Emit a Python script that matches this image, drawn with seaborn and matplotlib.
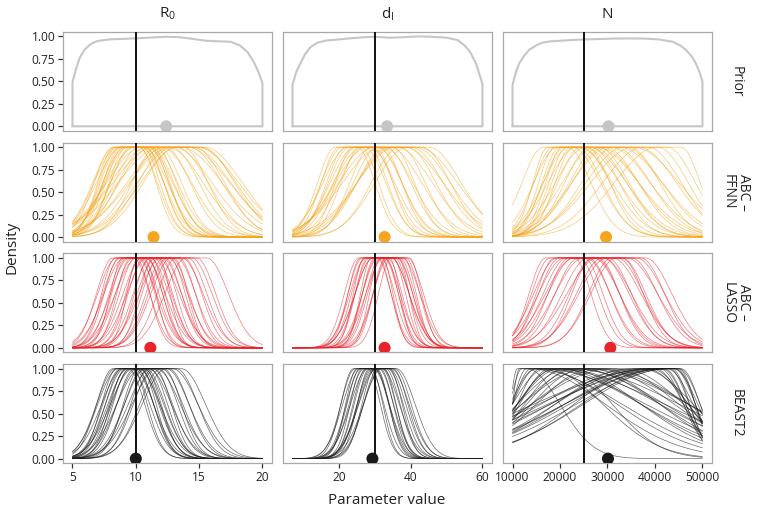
import numpy as np
import pandas as pd
import matplotlib
matplotlib.use("Agg")
import matplotlib.pyplot as plt
import seaborn as sns

# ---- panel layout ----
params = ["R0", "dI", "N"]
col_titles = [r"$\mathregular{R_0}$", r"$\mathregular{d_I}$", "N"]
methods = ["Prior", "ABC \u2013\nFFNN", "ABC \u2013\nLASSO", "BEAST2"]
method_colors = ["#C6C6C6", "#F5A51E", "#E8232A", "#1A1A1A"]

prior_lo = [5, 7, 10000]
prior_hi = [20, 60, 50000]
truth = [10, 30, 25000]

# mean estimate per method (rows) and parameter (cols)
mean_r0 = [12.4, 11.4, 11.15, 10.0]
mean_di = [33.4, 32.7, 32.7, 29.3]
mean_n = [30200, 29700, 30600, 30100]

# ---- prior density outlines ----
prior_r0_x = [5, 5.3, 5.6, 6.0, 6.5, 7.0, 8.0, 9.0, 10.0, 11.0, 12.4, 13.5,
              14.5, 15.5, 16.5, 17.5, 18.2, 18.8, 19.3, 19.7, 20]
prior_r0_y = [0.49, 0.65, 0.77, 0.86, 0.92, 0.95, 0.967, 0.972, 0.978, 0.985,
              0.996, 0.99, 0.972, 0.952, 0.945, 0.94, 0.90, 0.83, 0.72, 0.60, 0.48]
prior_di_x = [7, 8, 9.2, 10.5, 12, 14, 16.5, 19, 23, 27, 30, 34, 38, 42, 46,
              50, 53, 55, 56.5, 58.2, 60]
prior_di_y = [0.46, 0.60, 0.70, 0.80, 0.88, 0.93, 0.955, 0.962, 0.978, 0.99,
              0.995, 0.985, 0.99, 1.0, 0.995, 0.985, 0.96, 0.90, 0.83, 0.70, 0.47]
prior_n_x = [10000, 10700, 11400, 12400, 13500, 15000, 16300, 18000, 19800,
             22000, 25000, 28000, 31000, 35000, 38000, 41000, 43700, 45300,
             46500, 47700, 48600, 49400, 50000]
prior_n_y = [0.46, 0.60, 0.70, 0.78, 0.85, 0.90, 0.93, 0.945, 0.95, 0.958,
             0.965, 0.97, 0.975, 0.977, 0.975, 0.965, 0.94, 0.90, 0.85, 0.78,
             0.70, 0.60, 0.50]

# ---- posterior curves: plateau centre, left / right spread (estimated) ----
# R0, ABC-FFNN
ffnn_r0_c = [9.2, 9.3, 9.4, 9.5, 9.6, 9.7, 9.8, 9.9, 10.0, 10.1, 10.2, 10.3,
             10.4, 10.6, 10.8, 11.0, 11.3, 11.5, 11.8, 12.0, 12.2, 12.5, 12.7,
             13.0, 13.2, 13.4, 13.6, 13.8, 14.0, 14.2, 14.4]
ffnn_r0_s = [1.5, 1.3, 1.8, 1.4, 1.9, 1.5, 1.4, 2.0, 1.6, 1.5, 1.8, 1.4, 1.9,
             1.6, 1.8, 2.4, 2.0, 2.8, 2.2, 3.0, 2.5, 3.3, 2.0, 3.4, 2.6, 3.1,
             2.4, 3.3, 2.9, 2.6, 3.0]
# R0, ABC-LASSO
lasso_r0_c = [9.0, 9.2, 9.3, 9.5, 9.6, 9.8, 9.9, 10.0, 10.1, 10.3, 10.4, 10.6,
              10.8, 10.9, 11.0, 11.2, 11.3, 11.5, 11.7, 11.9, 12.0, 12.2, 12.4,
              12.6, 12.8, 13.0, 13.3, 13.6, 14.0, 14.8]
lasso_r0_s = [1.3, 1.1, 1.5, 1.2, 1.4, 1.0, 1.6, 1.3, 1.2, 1.5, 1.1, 1.4, 1.3,
              1.7, 0.9, 1.2, 1.5, 1.3, 1.6, 1.2, 1.4, 1.1, 1.5, 1.3, 1.7, 1.4,
              1.5, 1.6, 1.5, 1.7]
# R0, BEAST2
beast_r0_c = [8.8, 9.0, 9.1, 9.2, 9.4, 9.5, 9.6, 9.7, 9.8, 9.9, 10.0, 10.1,
              10.2, 10.4, 10.5, 10.7, 10.9, 11.0, 11.2, 11.4, 11.6, 11.8, 12.0,
              12.3, 12.6, 13.0]
beast_r0_s = [1.3, 1.5, 1.2, 1.6, 1.4, 1.3, 1.7, 1.5, 1.2, 1.4, 1.6, 1.3, 1.5,
              1.8, 1.4, 1.6, 1.3, 1.9, 1.5, 1.7, 1.4, 1.8, 1.6, 2.0, 1.7, 1.9]

# dI, ABC-FFNN
ffnn_di_c = [22, 23, 24, 25, 25.5, 26, 27, 27.5, 28, 29, 29.5, 30, 31, 32, 33,
             34, 35, 36, 37, 38, 39, 40, 42]
ffnn_di_s = [5, 5, 6, 5.5, 7, 6, 5, 7, 6.5, 5.5, 8, 7, 9, 6, 10, 7, 11, 8, 9,
             10, 11, 8, 9]
# dI, ABC-LASSO
lasso_di_c = [28, 28.5, 29, 29.5, 30, 30.5, 31, 31.5, 32, 32.5, 33, 33.5, 34,
              34.5, 35, 35.5, 36, 36.5, 37, 30, 32, 34]
lasso_di_s = [4, 3.5, 4, 3, 4.5, 3.5, 4, 3, 5, 3.5, 4, 4.5, 3, 4, 5, 3.5, 4,
              4.5, 3.5, 4, 5, 4]
# dI, BEAST2
beast_di_c = [26, 26.5, 27, 27.5, 28, 28.5, 29, 29.5, 30, 30.5, 31, 31.5, 32,
              32.5, 33, 33.5, 34, 28, 30, 32]
beast_di_s = [3.5, 4, 3.2, 4.5, 3.8, 3.4, 4.2, 3.6, 4.8, 3.4, 4, 4.4, 3.6, 5,
              4.2, 4.6, 5.2, 4, 3.8, 4.6]

# N, ABC-FFNN
ffnn_n_c = [19000, 20000, 21000, 21500, 22000, 22500, 23000, 23500, 24000,
            24500, 25000, 25500, 26000, 27000, 28000, 29000, 30000, 31000,
            32000, 33000, 34000, 36000, 38000, 40000, 43000]
ffnn_n_slo = [4500, 3200, 4000, 3500, 5000, 3800, 3500, 4500, 3800, 5500, 4200,
              4000, 6000, 5000, 6500, 5500, 7000, 6500, 7000, 8000, 7000, 8000,
              9000, 8500, 9000]
ffnn_n_shi = [5000, 6000, 5500, 7000, 6000, 7500, 5000, 8000, 6000, 7000, 9000,
              6500, 8000, 7000, 8500, 7500, 9000, 8000, 6500, 9500, 8000, 7000,
              6500, 6000, 4000]
# N, ABC-LASSO
lasso_n_c = [20000, 21000, 22000, 22500, 23000, 24000, 24500, 25000, 26000,
             27000, 28000, 29000, 30000, 31000, 32000, 33000, 34000, 35000,
             26000, 30000]
lasso_n_s = [3500, 4000, 4000, 5000, 4500, 5500, 5000, 4500, 5500, 5000, 6000,
             5500, 5000, 6500, 5500, 6000, 5000, 5500, 6000, 4500]
# N, BEAST2
beast_n_c = [40000, 41000, 42000, 42500, 43000, 43500, 44000, 44000, 41500,
             39000, 43000, 40500, 38000, 36000, 44500, 37000,
             12500, 13000, 14000, 15000, 16000, 17000, 18000, 19000, 20000,
             21000, 22000, 23000, 24000, 25000, 26000, 27000, 28000, 30000,
             32000, 12000, 20000, 16000]
beast_n_slo = [21000, 19000, 23000, 17000, 20000, 25000, 18000, 22000, 26000,
               15000, 21000, 24000, 18000, 16000, 20000, 20000,
               1500, 2500, 3000, 4000, 5500, 5000, 7000, 6500, 8000, 9000,
               8500, 11000, 10000, 12000, 11000, 14000, 12000, 15000, 17000,
               1400, 8000, 5000]
beast_n_shi = [5000, 4500, 4200, 3800, 4500, 4000, 3500, 4500, 5500, 6000,
               5000, 5000, 8000, 11000, 4000, 9000,
               16000, 19000, 17000, 22000, 20000, 24000, 18000, 21000, 16000,
               23000, 19000, 17000, 22000, 15000, 20000, 16000, 18000, 14000,
               13000, 7000, 10000, 12000]

plateau = {("R0", 1): 1.0, ("R0", 2): 0.8, ("R0", 3): 0.6,
           ("dI", 1): 3.0, ("dI", 2): 2.5, ("dI", 3): 2.0,
           ("N", 1): 2500, ("N", 2): 3000, ("N", 3): 1000}

curves = {
    ("R0", 1): (ffnn_r0_c, ffnn_r0_s, ffnn_r0_s),
    ("R0", 2): (lasso_r0_c, lasso_r0_s, lasso_r0_s),
    ("R0", 3): (beast_r0_c, beast_r0_s, beast_r0_s),
    ("dI", 1): (ffnn_di_c, ffnn_di_s, ffnn_di_s),
    ("dI", 2): (lasso_di_c, lasso_di_s, lasso_di_s),
    ("dI", 3): (beast_di_c, beast_di_s, beast_di_s),
    ("N", 1): (ffnn_n_c, ffnn_n_slo, ffnn_n_shi),
    ("N", 2): (lasso_n_c, lasso_n_s, lasso_n_s),
    ("N", 3): (beast_n_c, beast_n_slo, beast_n_shi),
}
priors = {"R0": (prior_r0_x, prior_r0_y), "dI": (prior_di_x, prior_di_y),
          "N": (prior_n_x, prior_n_y)}
means = {"R0": mean_r0, "dI": mean_di, "N": mean_n}


def flat_top(x, c, h, s_lo, s_hi):
    d = np.clip(np.abs(x - c) - h, 0, None)
    s = np.where(x < c, s_lo, s_hi)
    y = np.exp(-0.5 * (d / s) ** 2)
    return y / y.max()


sns.set_theme(style="white")
plt.rcParams["font.family"] = ["Open Sans", "DejaVu Sans"]
plt.rcParams["mathtext.fontset"] = "custom"
plt.rcParams["mathtext.rm"] = "Open Sans"

fig, axes = plt.subplots(4, 3, figsize=(7.59, 5.14), dpi=100)
fig.subplots_adjust(left=0.083, right=0.938, top=0.938, bottom=0.099,
                    wspace=0.053, hspace=0.12)

xlims = [(4.25, 20.75), (4.35, 62.65), (8000, 52000)]
xticks = [[5, 10, 15, 20], [20, 40, 60], [10000, 20000, 30000, 40000, 50000]]

for j, p in enumerate(params):
    lo, hi = prior_lo[j], prior_hi[j]
    xs = np.linspace(lo, hi, 240)
    for i in range(4):
        ax = axes[i, j]
        col = method_colors[i]
        if i == 0:
            px, py = priors[p]
            ax.plot([lo] + px + [hi, lo], [0] + py + [0, 0], color=col, lw=1.5)
        else:
            cs, slo, shi = curves[(p, i)]
            h = plateau[(p, i)]
            rows = []
            for k, (c, a, b) in enumerate(zip(cs, slo, shi)):
                rows.append(pd.DataFrame({"x": xs, "y": flat_top(xs, c, h, a, b),
                                          "curve": k}))
            df = pd.concat(rows, ignore_index=True)
            sns.lineplot(data=df, x="x", y="y", units="curve", estimator=None,
                         color=col, lw=0.5, alpha=0.6 if i < 3 else 0.65,
                         ax=ax, legend=False)
        ax.axvline(truth[j], color="#111111", lw=1.4, zorder=3)
        ax.scatter([means[p][i]], [0], s=75, color=col, zorder=4,
                   edgecolor="none")
        ax.set_xlim(*xlims[j])
        ax.set_ylim(-0.05, 1.05)
        ax.set_xticks(xticks[j])
        ax.set_yticks([0, 0.25, 0.5, 0.75, 1.0])
        ax.set_xlabel("")
        ax.set_ylabel("")
        for sp in ax.spines.values():
            sp.set_color("#A8A8A8")
            sp.set_linewidth(0.9)
        ax.tick_params(length=3.5, width=0.9, color="#333333", labelsize=8.6,
                       pad=2, labelcolor="#222222")
        if j == 0:
            ax.set_yticklabels(["0.00", "0.25", "0.50", "0.75", "1.00"])
            ax.tick_params(left=True)
        else:
            ax.tick_params(left=False, labelleft=False)
        if i == 3:
            ax.set_xticklabels([str(t) for t in xticks[j]])
            ax.tick_params(bottom=True)
        else:
            ax.tick_params(bottom=False, labelbottom=False)

# facet strips
for j in range(3):
    x0 = axes[0, j].get_position().x0
    x1 = axes[0, j].get_position().x1
    fig.text((x0 + x1) / 2, 1 - 14 / 514, col_titles[j], ha="center",
             va="center", fontsize=11, color="#222222")
for i in range(4):
    pos = axes[i, 2].get_position()
    fig.text(736 / 759, (pos.y0 + pos.y1) / 2, methods[i], rotation=-90,
             ha="center", va="center", multialignment="center", fontsize=10,
             color="#222222", linespacing=1.0)

fig.text(387 / 759, 0.027, "Parameter value", ha="center", va="center",
         fontsize=11, color="#222222")
fig.text(12 / 759, 0.518, "Density", ha="center", va="center", rotation=90,
         fontsize=11, color="#222222")

fig.savefig("out.png", dpi=100)
